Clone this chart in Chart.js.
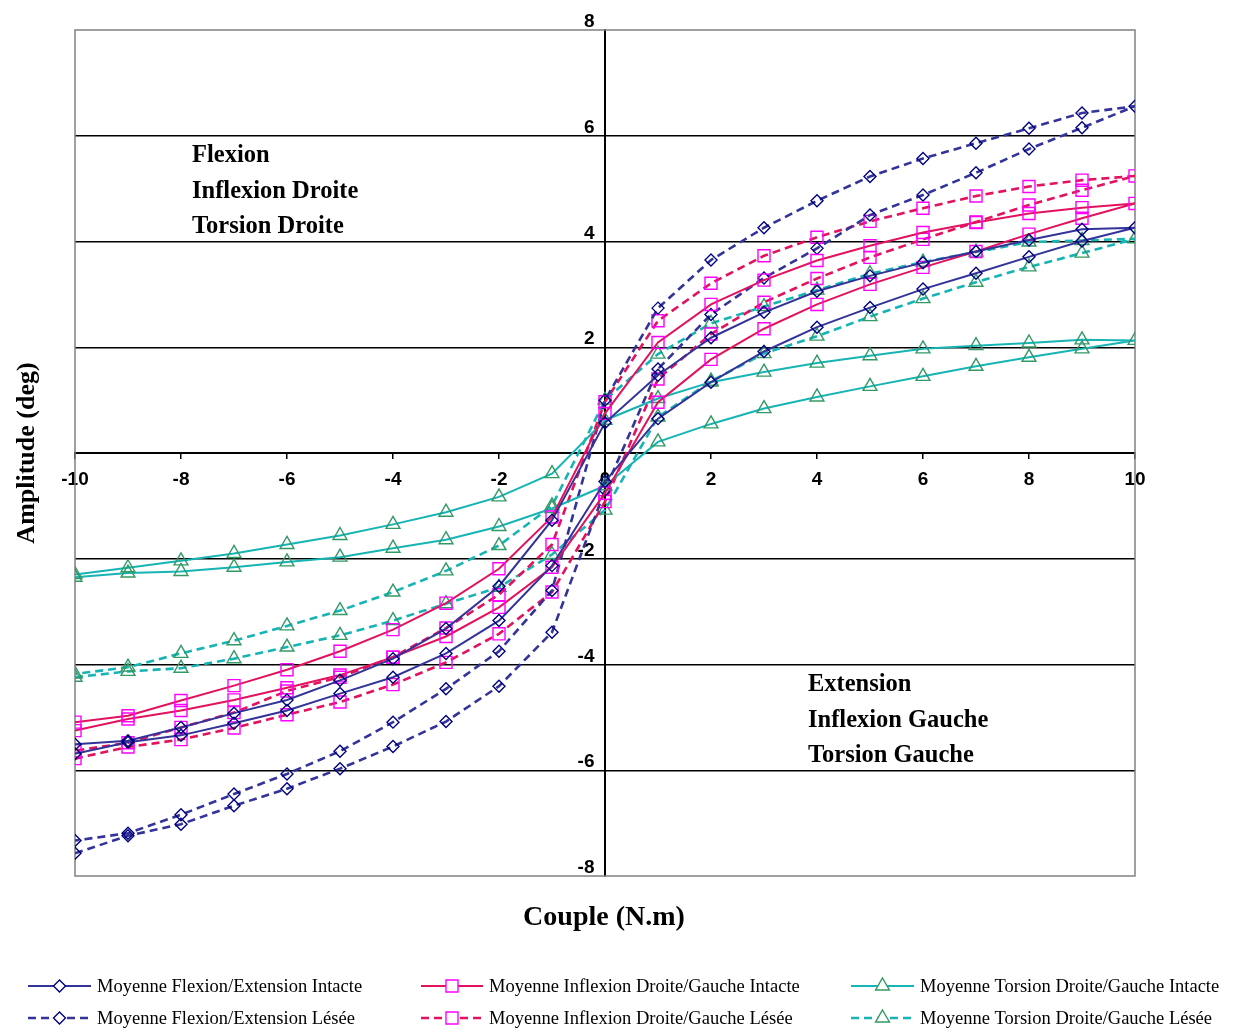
<!DOCTYPE html>
<html>
<head>
<meta charset="utf-8">
<script src="https://cdn.jsdelivr.net/npm/chart.js@4"></script>
<style>
  html, body { margin: 0; padding: 0; background: #fff; }
  #wrap { width: 1237px; height: 1032px; }
</style>
</head>
<body>
<div id="wrap"><canvas id="c" width="1237" height="1032"></canvas></div>
<script>
// couple appliqué (N.m)
const couple = [-10, -9, -8, -7, -6, -5, -4, -3, -2, -1, 0, 1, 2, 3, 4, 5, 6, 7, 8, 9, 10];

// amplitude (deg), branche basse (aller) et branche haute (retour)
const flexIntacteBas  = [-5.69, -5.47, -5.34, -5.11, -4.87, -4.55, -4.24, -3.79, -3.17, -2.13, -0.54, 0.65, 1.34, 1.92, 2.38, 2.75, 3.10, 3.40, 3.71, 4.01, 4.26];
const flexIntacteHaut = [-5.51, -5.44, -5.19, -4.92, -4.67, -4.30, -3.89, -3.32, -2.52, -1.27, 0.57, 1.47, 2.18, 2.66, 3.06, 3.35, 3.60, 3.81, 4.03, 4.23, 4.26];
const flexLeseeBas    = [-7.57, -7.24, -7.02, -6.67, -6.35, -5.97, -5.55, -5.08, -4.41, -3.39, -0.70, 1.59, 2.62, 3.31, 3.87, 4.50, 4.88, 5.30, 5.75, 6.15, 6.56];
const flexLeseeHaut   = [-7.33, -7.19, -6.84, -6.45, -6.07, -5.64, -5.09, -4.46, -3.75, -2.60, 1.00, 2.74, 3.65, 4.26, 4.77, 5.23, 5.57, 5.86, 6.14, 6.43, 6.56];
const inflIntacteBas  = [-5.25, -5.03, -4.87, -4.67, -4.44, -4.20, -3.86, -3.47, -2.92, -2.16, -0.76, 0.96, 1.77, 2.35, 2.81, 3.19, 3.51, 3.81, 4.14, 4.44, 4.72];
const inflIntacteHaut = [-5.09, -4.97, -4.68, -4.40, -4.10, -3.75, -3.34, -2.84, -2.19, -1.21, 0.75, 2.09, 2.81, 3.27, 3.64, 3.92, 4.17, 4.36, 4.53, 4.64, 4.72];
const inflLeseeBas    = [-5.78, -5.56, -5.42, -5.20, -4.95, -4.71, -4.38, -3.96, -3.42, -2.63, -0.92, 1.40, 2.25, 2.85, 3.30, 3.70, 4.04, 4.37, 4.69, 4.97, 5.24];
const inflLeseeHaut   = [-5.63, -5.48, -5.19, -4.91, -4.50, -4.24, -3.86, -3.31, -2.68, -1.73, 0.97, 2.50, 3.21, 3.73, 4.08, 4.38, 4.63, 4.86, 5.04, 5.16, 5.24];
const torsIntacteBas  = [-2.35, -2.27, -2.24, -2.16, -2.06, -1.97, -1.80, -1.64, -1.39, -1.05, -0.62, 0.21, 0.55, 0.84, 1.06, 1.26, 1.45, 1.64, 1.81, 1.97, 2.13];
const torsIntacteHaut = [-2.30, -2.17, -2.04, -1.90, -1.73, -1.56, -1.35, -1.12, -0.83, -0.39, 0.62, 1.03, 1.34, 1.53, 1.70, 1.84, 1.97, 2.03, 2.08, 2.14, 2.13];
const torsLeseeBas    = [-4.24, -4.13, -4.07, -3.89, -3.67, -3.45, -3.17, -2.85, -2.54, -1.92, -1.08, 0.68, 1.36, 1.88, 2.21, 2.58, 2.92, 3.23, 3.52, 3.78, 4.05];
const torsLeseeHaut   = [-4.18, -4.05, -3.79, -3.55, -3.27, -2.98, -2.63, -2.23, -1.75, -1.00, 1.00, 1.87, 2.45, 2.77, 3.08, 3.39, 3.61, 3.80, 3.99, 4.02, 4.05];

const xTicks = [-10, -8, -6, -4, -2, 0, 2, 4, 6, 8, 10];
const yTicks = [-8, -6, -4, -2, 0, 2, 4, 6, 8];

// aller de -10 a 10 puis retour de 10 a -10
function boucle(bas, haut) {
  const pts = couple.map((x, i) => ({x: x, y: bas[i]}));
  for (let i = couple.length - 2; i >= 0; i--) pts.push({x: couple[i], y: haut[i]});
  return pts;
}

const NAVY = '#333399', CRIMSON = '#e3125e', TEAL = '#16b4b4';

function serie(label, bas, haut, line, marker, style, radius, dashed) {
  return {
    label: label,
    data: boucle(bas, haut),
    showLine: true,
    borderColor: line,
    borderWidth: dashed ? 2.6 : 2,
    borderDash: dashed ? [8, 5] : [],
    tension: 0,
    pointStyle: style,
    pointRadius: radius,
    pointBorderColor: marker,
    pointBackgroundColor: 'rgba(0,0,0,0)',
    pointBorderWidth: 1.4,
    pointHoverRadius: radius
  };
}

const datasets = [
  serie('Moyenne Flexion/Extension Intacte', flexIntacteBas, flexIntacteHaut, NAVY, '#000080', 'rectRot', 6, false),
  serie('Moyenne Inflexion Droite/Gauche Intacte', inflIntacteBas, inflIntacteHaut, CRIMSON, '#ff00ff', 'rect', 8.5, false),
  serie('Moyenne Torsion Droite/Gauche Intacte', torsIntacteBas, torsIntacteHaut, TEAL, '#339966', 'triangle', 8, false),
  serie('Moyenne Flexion/Extension Lésée', flexLeseeBas, flexLeseeHaut, NAVY, '#000080', 'rectRot', 6, true),
  serie('Moyenne Inflexion Droite/Gauche Lésée', inflLeseeBas, inflLeseeHaut, CRIMSON, '#ff00ff', 'rect', 8.5, true),
  serie('Moyenne Torsion Droite/Gauche Lésée', torsLeseeBas, torsLeseeHaut, TEAL, '#339966', 'triangle', 8, true)
];

// cadre gris, titres, annotations et legende
const decor = {
  id: 'decor',
  beforeDatasetsDraw(chart) {
    const {ctx, chartArea: a} = chart;
    ctx.save();
    ctx.strokeStyle = '#808080';
    ctx.lineWidth = 1.5;
    ctx.strokeRect(a.left, a.top, a.right - a.left, a.bottom - a.top);
    ctx.restore();
  },
  afterDraw(chart) {
    const ctx = chart.ctx;
    ctx.save();
    ctx.fillStyle = '#000';
    ctx.textBaseline = 'middle';
    ctx.font = 'bold 24.5px "Liberation Serif", "Times New Roman", serif';
    ctx.textAlign = 'left';
    [['Flexion', 156], ['Inflexion Droite', 192], ['Torsion Droite', 227]].forEach(t => ctx.fillText(t[0], 192, t[1]));
    [['Extension', 685], ['Inflexion Gauche', 721], ['Torsion Gauche', 756]].forEach(t => ctx.fillText(t[0], 808, t[1]));

    ctx.textAlign = 'center';
    ctx.font = 'bold 28px "Liberation Serif", "Times New Roman", serif';
    ctx.fillText('Couple (N.m)', 604, 918);
    ctx.save();
    ctx.translate(27, 453);
    ctx.rotate(-Math.PI / 2);
    ctx.font = 'bold 26px "Liberation Serif", "Times New Roman", serif';
    ctx.fillText('Amplitude (deg)', 0, 0);
    ctx.restore();

    // legende sur 3 colonnes
    const cols = [[28, 97], [421, 489], [851, 920]];
    const rows = [986, 1018];
    ctx.font = '18.5px "Liberation Serif", "Times New Roman", serif';
    ctx.textAlign = 'left';
    chart.data.datasets.forEach((ds, i) => {
      const c = cols[i % 3], y = rows[Math.floor(i / 3)];
      const x0 = c[0], x1 = c[1] - 6, xm = (x0 + x1) / 2;
      ctx.save();
      ctx.strokeStyle = ds.borderColor;
      ctx.lineWidth = ds.borderWidth;
      ctx.setLineDash(ds.borderDash);
      ctx.beginPath();
      ctx.moveTo(x0, y);
      ctx.lineTo(x1, y);
      ctx.stroke();
      ctx.setLineDash([]);
      ctx.fillStyle = '#fff';
      ctx.strokeStyle = ds.pointBorderColor;
      ctx.lineWidth = 1.4;
      Chart.helpers.drawPoint(ctx, {pointStyle: ds.pointStyle, radius: ds.pointRadius, borderWidth: 1.4, rotation: 0}, xm, y);
      ctx.restore();
      ctx.fillStyle = '#000';
      ctx.fillText(ds.label, c[1], y + 1);
    });
    ctx.restore();
  }
};

new Chart(document.getElementById('c'), {
  type: 'scatter',
  data: {datasets: datasets},
  options: {
    responsive: false,
    animation: false,
    layout: {padding: {left: 75, right: 102, top: 30, bottom: 156}},
    plugins: {legend: {display: false}, tooltip: {enabled: false}},
    scales: {
      x: {
        type: 'linear',
        min: -10, max: 10,
        position: {y: 0},
        afterBuildTicks: s => { s.ticks = xTicks.map(v => ({value: v})); },
        grid: {drawOnChartArea: false, drawTicks: true, tickLength: 5, color: '#000', lineWidth: 1.5},
        border: {color: '#000', width: 2},
        ticks: {color: '#000', padding: 10, font: {family: '"Liberation Sans", Arial, sans-serif', size: 19, weight: 'bold'}}
      },
      y: {
        type: 'linear',
        min: -8, max: 8,
        position: {x: 0},
        afterBuildTicks: s => { s.ticks = yTicks.map(v => ({value: v})); },
        grid: {
          color: c => (c.tick && (c.tick.value === 0 || Math.abs(c.tick.value) === 8)) ? 'rgba(0,0,0,0)' : '#000',
          lineWidth: 1.5,
          drawTicks: false
        },
        border: {color: '#000', width: 2},
        ticks: {
          color: '#000',
          labelOffset: -8,
          // espaces en fin de libelle pour decaler le texte a gauche de l'axe
          callback: v => v === 0 ? '' : String(v) + '  ',
          font: {family: '"Liberation Sans", Arial, sans-serif', size: 19, weight: 'bold'}
        }
      }
    }
  },
  plugins: [decor]
});
</script>
</body>
</html>
